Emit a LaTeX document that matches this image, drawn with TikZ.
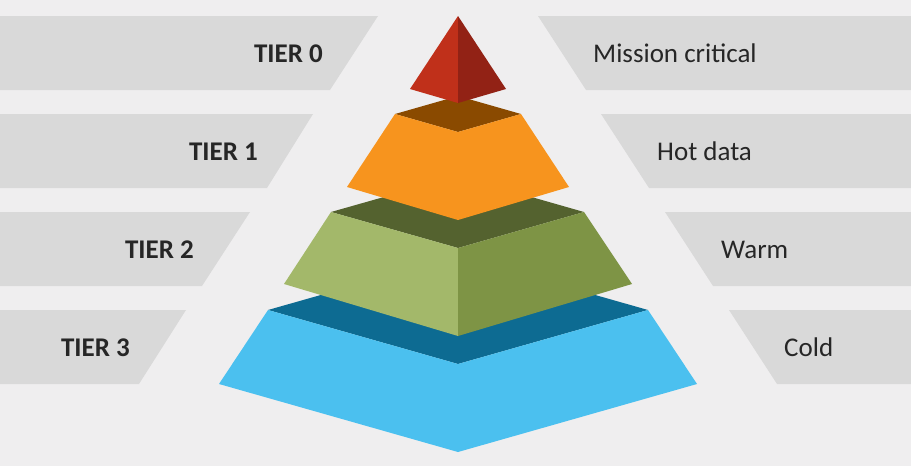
\documentclass[tikz,border=0pt]{standalone}
\usepackage{fontspec}
\setmainfont{Carlito}
\definecolor{bgc}{HTML}{EFEEEF}
\definecolor{bandc}{HTML}{D9D9D9}
\definecolor{txtc}{HTML}{262626}
\definecolor{tzl}{HTML}{C0301A}
\definecolor{tzr}{HTML}{922215}
\definecolor{tot}{HTML}{8A4A00}
\definecolor{tof}{HTML}{F7941E}
\definecolor{ttt}{HTML}{54622F}
\definecolor{ttl}{HTML}{A3B86A}
\definecolor{ttr}{HTML}{7E9445}
\definecolor{tht}{HTML}{0D6B92}
\definecolor{thf}{HTML}{4BC0EF}
\tikzset{
  band/.style={fill=bandc,draw=none},
  face/.style={draw=none},
  tierlabel/.style={anchor=base east,inner sep=0pt,text=txtc,font=\fontsize{27}{32}\selectfont\bfseries},
  desclabel/.style={anchor=base west,inner sep=0pt,text=txtc,font=\fontsize{27}{32}\selectfont},
}
\begin{document}
\begin{tikzpicture}[x=1pt,y=-1pt]
\fill[bgc] (0,0) rectangle (911,466);
\useasboundingbox (0,0) rectangle (911,466);
% left bands
\fill[band] (0,16) -- (378,16) -- (330,90) -- (0,90) -- cycle;
\fill[band] (0,114) -- (313,114) -- (267,188) -- (0,188) -- cycle;
\fill[band] (0,212) -- (250,212) -- (202,286) -- (0,286) -- cycle;
\fill[band] (0,310) -- (186,310) -- (139,384) -- (0,384) -- cycle;
% right bands
\fill[band] (538,16) -- (911,16) -- (911,90) -- (586,90) -- cycle;
\fill[band] (601,114) -- (911,114) -- (911,188) -- (649,188) -- cycle;
\fill[band] (665,212) -- (911,212) -- (911,286) -- (713,286) -- cycle;
\fill[band] (729,310) -- (911,310) -- (911,384) -- (777,384) -- cycle;
% tier 3
\fill[tht] (268,310) -- (458,256) -- (648,310) -- (458,364) -- cycle;
\fill[thf] (268,310) -- (458,364) -- (648,310) -- (697,384) -- (458,452) -- (219,384) -- cycle;
% tier 2
\fill[ttt] (331,212) -- (458,176) -- (584,212) -- (458,248) -- cycle;
\fill[ttl] (331,212) -- (458,248) -- (458,336) -- (284,284) -- cycle;
\fill[ttr] (458,248) -- (584,212) -- (632,284) -- (458,336) -- cycle;
% tier 1
\fill[tot] (395,114) -- (458,96) -- (521,114) -- (458,132) -- cycle;
\fill[tof] (395,114) -- (458,132) -- (521,114) -- (569,187) -- (458,220) -- (347,187) -- cycle;
% tier 0
\fill[tzl] (458,16) -- (410,89) -- (458,103) -- cycle;
\fill[tzr] (458,16) -- (506,89) -- (458,103) -- cycle;
% labels
\node[tierlabel] (t0) at (323,62) {TIER 0};
\node[tierlabel] (t1) at (258,160) {TIER 1};
\node[tierlabel] (t2) at (194,258) {TIER 2};
\node[tierlabel] (t3) at (130,356) {TIER 3};
\node[desclabel] (d0) at (593,62) {Mission critical};
\node[desclabel] (d1) at (657,160) {Hot data};
\node[desclabel] (d2) at (721,258) {Warm};
\node[desclabel] (d3) at (784,356) {Cold};
\end{tikzpicture}
\end{document}
